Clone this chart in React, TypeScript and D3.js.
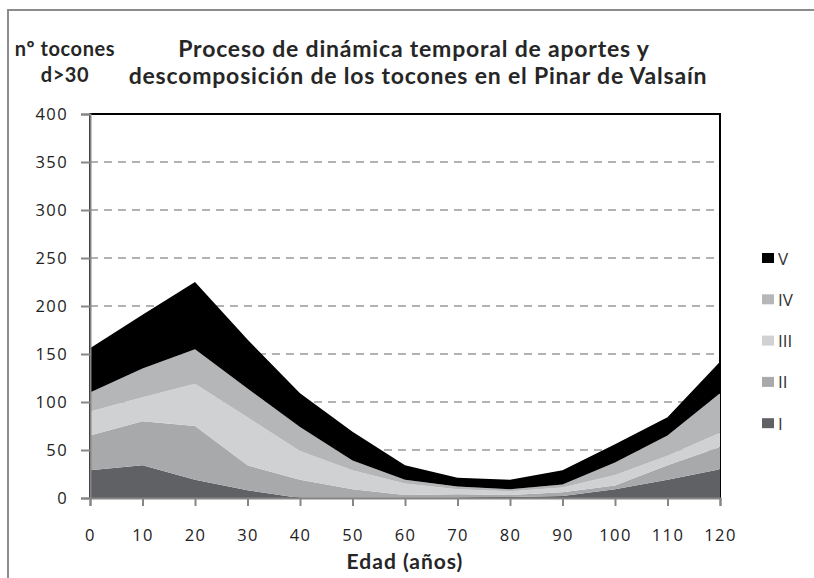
import React, { useEffect, useRef } from "react";
import * as d3 from "d3";

// edades (años)
const ages = [0, 10, 20, 30, 40, 50, 60, 70, 80, 90, 100, 110, 120];
const seriesNames = ["I", "II", "III", "IV", "V"];
const seriesColors = ["#606165", "#a8a9ab", "#d0d1d3", "#b5b6b8", "#000000"];
// nº tocones por clase de descomposición
const claseI = [29, 34, 19, 8, 0, 0, 0, 0, 1, 2, 9, 19, 30];
const claseII = [36, 46, 56, 26, 19, 9, 3, 4, 2, 4, 4, 15, 23];
const claseIII = [25, 25, 44, 50, 30, 20, 12, 5, 4, 5, 11, 10, 15];
const claseIV = [20, 30, 36, 30, 25, 10, 4, 3, 2, 3, 13, 21, 41];
const claseV = [46, 56, 70, 51, 35, 30, 15, 9, 10, 15, 19, 19, 33];
const yTicks = [0, 50, 100, 150, 200, 250, 300, 350, 400];

function App() {
  const ref = useRef<SVGSVGElement>(null);

  useEffect(() => {
    const svg = d3.select(ref.current);
    svg.selectAll("*").remove();

    const width = 814;
    const height = 578;
    const margins = { top: 114, right: 94, bottom: 80, left: 90 };
    const boundedWidth = width - margins.left - margins.right;
    const boundedHeight = height - margins.top - margins.bottom;

    const table = ages.map((a, i) => ({
      age: a,
      I: claseI[i],
      II: claseII[i],
      III: claseIII[i],
      IV: claseIV[i],
      V: claseV[i],
    }));
    const stacked = d3.stack().keys(seriesNames)(table as any);

    const xScale = d3.scaleLinear().domain([0, 120]).range([0, boundedWidth]);
    const yScale = d3.scaleLinear().domain([0, 400]).range([boundedHeight, 0]);

    // marco exterior
    svg
      .append("rect")
      .attr("x", 8)
      .attr("y", 10)
      .attr("width", 820)
      .attr("height", 600)
      .attr("fill", "white")
      .attr("stroke", "#8c8c8c")
      .attr("stroke-width", 2);

    const bounds = svg
      .append("g")
      .attr("transform", `translate(${margins.left}, ${margins.top})`);

    // borde del área de trazado
    bounds
      .append("rect")
      .attr("x", 0)
      .attr("y", 0)
      .attr("width", boundedWidth)
      .attr("height", boundedHeight)
      .attr("fill", "none")
      .attr("stroke", "black")
      .attr("stroke-width", 2);

    // líneas de cuadrícula
    bounds
      .selectAll(".grid")
      .data(yTicks.filter((t) => t > 0 && t < 400))
      .join("line")
      .attr("x1", 0)
      .attr("x2", boundedWidth)
      .attr("y1", (d) => yScale(d))
      .attr("y2", (d) => yScale(d))
      .attr("stroke", "#b3b3b3")
      .attr("stroke-width", 2)
      .attr("stroke-dasharray", "8,6");

    const area = d3
      .area<any>()
      .x((d) => xScale(d.data.age))
      .y0((d) => yScale(d[0]))
      .y1((d) => yScale(d[1]));

    bounds
      .selectAll(".layer")
      .data(stacked)
      .join("path")
      .attr("d", area as any)
      .attr("fill", (d, i) => seriesColors[i]);

    // ejes
    const yAxis = bounds
      .append("g")
      .call(d3.axisLeft(yScale).tickValues(yTicks).tickSize(9).tickPadding(13));
    const xAxis = bounds
      .append("g")
      .attr("transform", `translate(0, ${boundedHeight})`)
      .call(d3.axisBottom(xScale).tickValues(ages).tickSize(8).tickPadding(23));

    [yAxis, xAxis].forEach((ax) => {
      ax.select(".domain").attr("stroke", "#868686").attr("stroke-width", 2);
      ax.selectAll(".tick line").attr("stroke", "#868686").attr("stroke-width", 2);
      ax.selectAll("text")
        .attr("fill", "#222")
        .style("font-family", "'Open Sans', sans-serif")
        .style("font-size", "16.5px")
        .style("letter-spacing", "1.4px");
    });

    const titleFont = "Lato, 'Open Sans', sans-serif";

    // título
    const title = svg
      .append("text")
      .attr("text-anchor", "middle")
      .style("font-family", titleFont)
      .style("font-weight", "bold")
      .style("font-size", "23px")
      .style("letter-spacing", "0.8px")
      .attr("fill", "#262626");
    title
      .append("tspan")
      .attr("x", 414)
      .attr("y", 57)
      .text("Proceso de dinámica temporal de aportes y");
    title
      .append("tspan")
      .attr("x", 418)
      .attr("y", 84)
      .text("descomposición de los tocones en el Pinar de Valsaín");

    // título eje Y
    const yTitle = svg
      .append("text")
      .attr("text-anchor", "middle")
      .style("font-family", titleFont)
      .style("font-weight", "bold")
      .style("font-size", "20px")
      .style("letter-spacing", "0.6px")
      .attr("fill", "#262626");
    yTitle.append("tspan").attr("x", 65).attr("y", 56).text("nº tocones");
    yTitle.append("tspan").attr("x", 65).attr("y", 82).text("d>30");

    // título eje X
    svg
      .append("text")
      .attr("x", 405)
      .attr("y", 569)
      .attr("text-anchor", "middle")
      .style("font-family", titleFont)
      .style("font-weight", "bold")
      .style("font-size", "21px")
      .style("letter-spacing", "1px")
      .attr("fill", "#262626")
      .text("Edad (años)");

    // leyenda
    const legendNames = [...seriesNames].reverse();
    const legend = svg
      .append("g")
      .attr("transform", "translate(762, 258)")
      .selectAll("g")
      .data(legendNames)
      .join("g")
      .attr("transform", (d, i) => `translate(0, ${i * 41.3})`);
    legend
      .append("rect")
      .attr("x", 0)
      .attr("y", -5)
      .attr("width", 12)
      .attr("height", 10)
      .attr("fill", (d) => seriesColors[seriesNames.indexOf(d)]);
    legend
      .append("text")
      .attr("x", 16)
      .attr("y", 6.5)
      .style("font-family", "'Open Sans', sans-serif")
      .style("font-size", "17px")
      .attr("fill", "#333")
      .text((d) => d);
  }, []);

  return (
    <svg
      ref={ref}
      width={814}
      height={578}
      style={{ display: "block", position: "absolute", left: 0, top: 0 }}
    />
  );
}

export default App;
